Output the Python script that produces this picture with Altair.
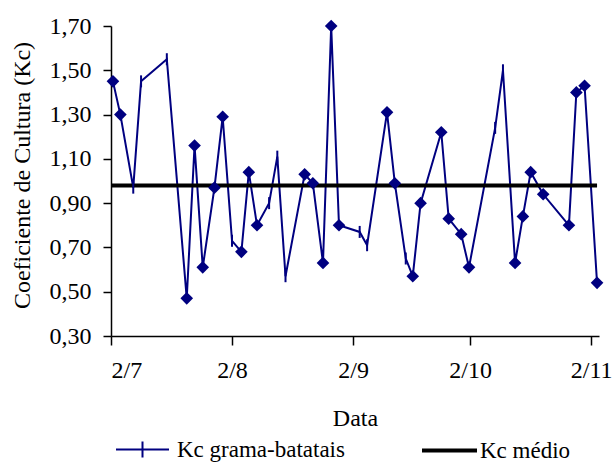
import altair as alt
import pandas as pd

# days since 2 July
dias = [0.5, 2.4, 5.7, 7.7, 14.3, 19.4, 21.4, 23.5, 26.5, 28.6, 31.0, 33.4, 35.3, 37.4,
        40.5, 42.6, 44.7, 49.6, 51.7, 54.3, 56.4, 58.4, 63.7, 65.6, 70.7, 72.7, 75.5,
        77.3, 79.3, 84.6, 86.5, 89.7, 91.7, 98.4, 100.4, 103.5, 105.5, 107.5, 110.7,
        117.3, 119.2, 121.3, 124.5]
kc = [1.45, 1.30, 0.97, 1.45, 1.55, 0.47, 1.16, 0.61, 0.97, 1.29, 0.73, 0.68, 1.04, 0.80,
      0.90, 1.11, 0.57, 1.03, 0.99, 0.63, 1.70, 0.80, 0.77, 0.71, 1.31, 0.99, 0.65,
      0.57, 0.90, 1.22, 0.83, 0.76, 0.61, 1.24, 1.50, 0.63, 0.84, 1.04, 0.94,
      0.80, 1.40, 1.43, 0.54]
marcador = ["D", "D", "T", "T", "T", "D", "D", "D", "D", "D", "T", "D", "D", "D",
            "T", "T", "T", "D", "D", "D", "D", "D", "T", "T", "D", "D", "T",
            "D", "D", "D", "D", "D", "D", "T", "T", "D", "D", "D", "D",
            "D", "D", "D", "D"]
kc_medio = 0.98
medio_dias = [0, 124.5]

tick_dias = [0, 31, 62, 92, 123]
tick_labels = ["2/7", "2/8", "2/9", "2/10", "2/11"]
serie_kc = "Kc grama-batatais"
serie_medio = "Kc médio"
cor_kc = "#000080"
cor_medio = "#000000"

df = pd.DataFrame({"dia": dias, "kc": kc, "marcador": marcador, "serie": serie_kc})
dfm = pd.DataFrame({"dia": medio_dias, "kc": [kc_medio] * len(medio_dias), "serie": serie_medio})

label_expr = " : ".join(
    [f"datum.value == {d} ? '{l}'" for d, l in zip(tick_dias, tick_labels)]
) + " : ''"

FONT = "Liberation Serif, Times New Roman, serif"

x = alt.X("dia:Q",
          scale=alt.Scale(domain=[0, 125], nice=False, zero=False),
          axis=alt.Axis(values=tick_dias, labelExpr=label_expr, title="Data",
                        tickSize=9, labelPadding=13, titleY=89, titleBaseline="alphabetic"))
y = alt.Y("kc:Q",
          scale=alt.Scale(domain=[0.30, 1.70], nice=False, zero=False),
          axis=alt.Axis(values=[0.3, 0.5, 0.7, 0.9, 1.1, 1.3, 1.5, 1.7],
                        labelExpr="replace(format(datum.value, '.2f'), '.', ',')",
                        title="Coeficiente de Cultura (Kc)", tickSize=8, labelPadding=12,
                        titleX=-82, titleY=149, titleBaseline="alphabetic", titleAngle=-90))

leg_common = dict(title=None, orient="none", direction="vertical", padding=0,
                  labelFont=FONT, labelFontSize=23, labelColor="black", labelLimit=0,
                  symbolFillColor="transparent")

color = alt.Color("serie:N", scale=alt.Scale(domain=[serie_kc], range=[cor_kc]),
                  legend=alt.Legend(legendX=4, legendY=396,
                                    symbolType="M-1,0L1,0M0,-0.3L0,0.3", symbolSize=2809,
                                    symbolStrokeWidth=2, labelOffset=7, **leg_common))
stroke = alt.Stroke("serie:N", scale=alt.Scale(domain=[serie_medio], range=[cor_medio]),
                    legend=alt.Legend(legendX=309, legendY=395,
                                      symbolType="stroke", symbolSize=3025,
                                      symbolStrokeWidth=4, labelOffset=1, **leg_common))

linha = alt.Chart(df).mark_line(strokeWidth=2).encode(x=x, y=y, color=color)
medio = alt.Chart(dfm).mark_line(strokeWidth=4).encode(x=x, y=y, stroke=stroke)
diamantes = alt.Chart(df).transform_filter("datum.marcador == 'D'").mark_point(
    shape="diamond", filled=True, size=160, color=cor_kc, opacity=1
).encode(x=x, y=y)
tracos = alt.Chart(df).transform_filter("datum.marcador == 'T'").mark_point(
    shape="M0,-1L0,1", filled=False, size=144, color=cor_kc, strokeWidth=2, opacity=1
).encode(x=x, y=y)

chart = alt.layer(linha, medio, diamantes, tracos).properties(
    width=488, height=310,
    autosize=alt.AutoSizeParams(type="none"),
    padding={"left": 111, "top": 26, "right": 16, "bottom": 127},
).configure_view(stroke=None).configure_axis(
    grid=False, domainColor="black", tickColor="black", domainWidth=1.5, tickWidth=1.5,
    labelFont=FONT, titleFont=FONT, labelFontSize=24, titleFontSize=24,
    labelColor="black", titleColor="black", titleFontWeight="normal"
)

chart.save("out.html", embed_options={"renderer": "svg", "actions": False})
